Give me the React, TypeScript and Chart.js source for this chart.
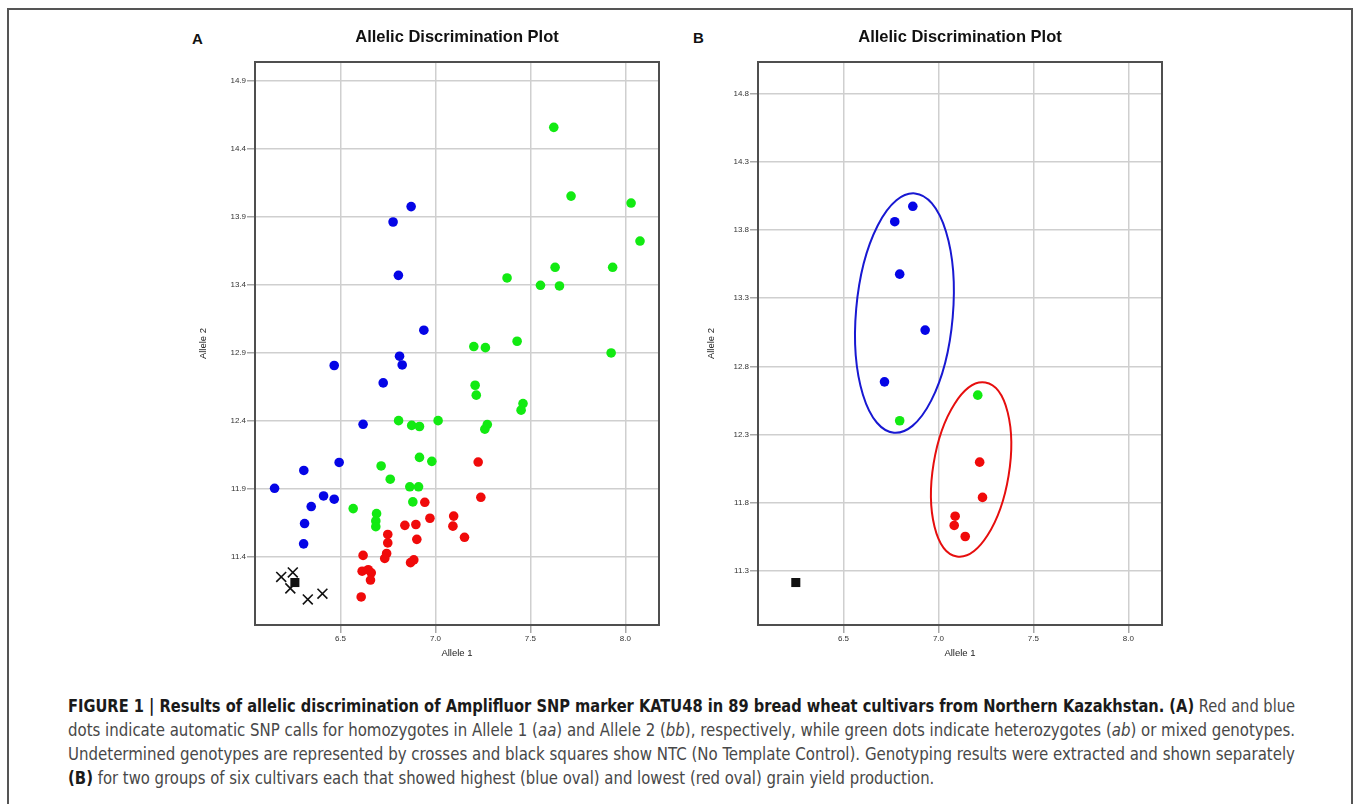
import React, { useEffect, useLayoutEffect, useRef } from 'react';
import { Chart, registerables } from 'chart.js';

Chart.register(...registerables);

// ---------- data ----------
const xTickValues = [6.5, 7.0, 7.5, 8.0];
const yTickValuesA = [11.4, 11.9, 12.4, 12.9, 13.4, 13.9, 14.4, 14.9];
const yTickValuesB = [11.3, 11.8, 12.3, 12.8, 13.3, 13.8, 14.3, 14.8];

const X_MIN = 6.05;
const X_MAX = 8.177;
const Y_MIN = 10.9;
const Y_MAX = 15.035;

type Pt = [number, number];

// Panel A: all cultivars
const blueA: Pt[] = [
  [6.872, 13.973], [6.777, 13.86], [6.805, 13.468], [6.939, 13.065], [6.811, 12.874],
  [6.825, 12.81], [6.467, 12.806], [6.725, 12.678], [6.619, 12.374], [6.493, 12.094],
  [6.307, 12.035], [6.153, 11.904], [6.411, 11.848], [6.467, 11.824], [6.346, 11.77],
  [6.311, 11.645], [6.306, 11.496],
];
const greenA: Pt[] = [
  [7.623, 14.555], [7.714, 14.05], [8.03, 13.999], [8.077, 13.72], [7.63, 13.527],
  [7.933, 13.527], [7.377, 13.449], [7.553, 13.395], [7.653, 13.39], [7.43, 12.984],
  [7.202, 12.945], [7.263, 12.937], [7.925, 12.898], [7.209, 12.661], [7.215, 12.588],
  [7.461, 12.526], [7.451, 12.478], [6.806, 12.401], [7.014, 12.401], [6.875, 12.366],
  [6.916, 12.358], [7.273, 12.372], [7.26, 12.338], [6.916, 12.131], [6.981, 12.102],
  [6.714, 12.068], [6.762, 11.971], [6.865, 11.915], [6.911, 11.915], [6.881, 11.804],
  [6.567, 11.755], [6.69, 11.718], [6.686, 11.664], [6.686, 11.622],
];
const redA: Pt[] = [
  [7.225, 12.097], [7.239, 11.838], [6.944, 11.801], [7.096, 11.7], [6.971, 11.684],
  [7.092, 11.626], [6.839, 11.632], [6.897, 11.638], [7.153, 11.544], [6.749, 11.565],
  [6.749, 11.503], [6.902, 11.529], [6.743, 11.425], [6.733, 11.389], [6.619, 11.411],
  [6.886, 11.378], [6.869, 11.358], [6.614, 11.295], [6.646, 11.306], [6.662, 11.283],
  [6.658, 11.23], [6.609, 11.106],
];
const undeterminedA: Pt[] = [
  [6.188, 11.253], [6.249, 11.286], [6.236, 11.169], [6.328, 11.088], [6.405, 11.13],
];
const ntcA: Pt[] = [[6.26, 11.212]];

// Panel B: selected cultivars
const blueB: Pt[] = [[6.865, 13.975], [6.77, 13.862], [6.796, 13.477], [6.93, 13.066], [6.716, 12.686]];
const greenB: Pt[] = [[6.796, 12.4], [7.207, 12.588]];
const redB: Pt[] = [[7.217, 12.096], [7.232, 11.837], [7.088, 11.699], [7.083, 11.631], [7.141, 11.55]];
const ntcB: Pt[] = [[6.249, 11.212]];

// ovals in data units: centre, half-width (x units), half-height (y units), tilt in degrees
const ovalCentersX = [6.821, 7.172];
const ovalCentersY = [13.191, 12.042];
const ovalHalfX = [0.255, 0.2];
const ovalHalfY = [0.882, 0.647];
const ovalTilt = [5, 9.3];
const ovalColors = ['#1818d2', '#e60e0e'];

// ---------- colours / styles ----------
const BLUE = '#0505e6';
const GREEN = '#12ea12';
const RED = '#f00a0a';
const BLACK = '#111111';

interface SeriesDef {
  label: string;
  data: Pt[];
  color: string;
  style: 'circle' | 'crossRot' | 'rect';
  radius: number;
}

const seriesA: SeriesDef[] = [
  { label: 'Heterozygotes', data: greenA, color: GREEN, style: 'circle', radius: 4.8 },
  { label: 'Allele 2', data: blueA, color: BLUE, style: 'circle', radius: 4.8 },
  { label: 'Allele 1', data: redA, color: RED, style: 'circle', radius: 4.8 },
  { label: 'Undetermined', data: undeterminedA, color: BLACK, style: 'crossRot', radius: 7 },
  { label: 'NTC', data: ntcA, color: BLACK, style: 'rect', radius: 6.4 },
];
const seriesB: SeriesDef[] = [
  { label: 'Heterozygotes', data: greenB, color: GREEN, style: 'circle', radius: 4.8 },
  { label: 'Allele 2', data: blueB, color: BLUE, style: 'circle', radius: 4.8 },
  { label: 'Allele 1', data: redB, color: RED, style: 'circle', radius: 4.8 },
  { label: 'NTC', data: ntcB, color: BLACK, style: 'rect', radius: 6.4 },
];

const TICK_FONT = { family: '"Liberation Sans", Arial, sans-serif', size: 8 };
const AXIS_TITLE_FONT = { family: '"Liberation Sans", Arial, sans-serif', size: 9.5 };

interface PanelProps {
  left: number;
  top: number;
  width: number;
  height: number;
  yAxisWidth: number;
  yTitlePad: number;
  rightPad: number;
  yTicks: number[];
  series: SeriesDef[];
  withOvals: boolean;
}

function ScatterPanel(props: PanelProps) {
  const ref = useRef<HTMLCanvasElement | null>(null);
  useEffect(() => {
    const canvas = ref.current;
    if (!canvas) return;

    const framePlugin = {
      id: 'plotFrame',
      beforeDatasetsDraw(chart: any) {
        const { ctx, chartArea: a } = chart;
        ctx.save();
        ctx.strokeStyle = '#4f4f4f';
        ctx.lineWidth = 2;
        ctx.strokeRect(a.left, a.top, a.right - a.left, a.bottom - a.top);
        ctx.restore();
      },
    };

    const ovalPlugin = {
      id: 'ovals',
      afterDatasetsDraw(chart: any) {
        if (!props.withOvals) return;
        const { ctx } = chart;
        const xs = chart.scales.x;
        const ys = chart.scales.y;
        ctx.save();
        ctx.lineWidth = 2;
        for (let i = 0; i < ovalCentersX.length; i++) {
          const cx = xs.getPixelForValue(ovalCentersX[i]);
          const cy = ys.getPixelForValue(ovalCentersY[i]);
          const rx = Math.abs(xs.getPixelForValue(ovalCentersX[i] + ovalHalfX[i]) - cx);
          const ry = Math.abs(ys.getPixelForValue(ovalCentersY[i] + ovalHalfY[i]) - cy);
          ctx.strokeStyle = ovalColors[i];
          ctx.beginPath();
          ctx.ellipse(cx, cy, rx, ry, (ovalTilt[i] * Math.PI) / 180, 0, Math.PI * 2);
          ctx.stroke();
        }
        ctx.restore();
      },
    };

    const chart = new Chart(canvas, {
      type: 'scatter',
      data: {
        datasets: props.series.map((s) => ({
          label: s.label,
          data: s.data.map(([x, y]) => ({ x, y })),
          pointStyle: s.style,
          pointRadius: s.radius,
          pointBackgroundColor: s.color,
          pointBorderColor: s.color,
          pointBorderWidth: s.style === 'crossRot' ? 1.6 : 0,
          showLine: false,
        })),
      },
      options: {
        responsive: false,
        animation: false,
        events: [],
        layout: { padding: { left: 0, right: props.rightPad, top: 0, bottom: 0 } },
        scales: {
          x: {
            type: 'linear',
            min: X_MIN,
            max: X_MAX,
            afterBuildTicks: (s: any) => {
              s.ticks = xTickValues.map((v) => ({ value: v }));
            },
            afterFit: (s: any) => {
              s.height = 49;
            },
            grid: { color: '#cfcfcf', lineWidth: 1.5, tickLength: 8, tickColor: '#a8a8a8' },
            border: { display: false },
            ticks: {
              padding: 1,
              color: '#333333',
              font: TICK_FONT,
              callback: (v: any) => Number(v).toFixed(1),
            },
            title: {
              display: true,
              text: 'Allele 1',
              color: '#222222',
              font: AXIS_TITLE_FONT,
              padding: { top: 0, bottom: 14.6 },
            },
          },
          y: {
            type: 'linear',
            min: Y_MIN,
            max: Y_MAX,
            afterBuildTicks: (s: any) => {
              s.ticks = props.yTicks.map((v) => ({ value: v }));
            },
            afterFit: (s: any) => {
              s.width = props.yAxisWidth;
            },
            grid: { color: '#cfcfcf', lineWidth: 1.5, tickLength: 8, tickColor: '#a8a8a8' },
            border: { display: false },
            ticks: {
              padding: 1,
              color: '#333333',
              font: TICK_FONT,
              callback: (v: any) => Number(v).toFixed(1),
            },
            title: {
              display: true,
              text: 'Allele 2',
              color: '#222222',
              font: AXIS_TITLE_FONT,
              padding: { top: props.yTitlePad, bottom: 0 },
            },
          },
        },
        plugins: {
          legend: { display: false },
          tooltip: { enabled: false },
          title: {
            display: true,
            text: 'Allelic Discrimination Plot',
            fullSize: false,
            color: '#111111',
            font: { family: '"Liberation Sans", Arial, sans-serif', size: 16.5, weight: 'bold' },
            padding: { top: 13.5, bottom: 14.7 },
          },
        },
      } as any,
      plugins: [framePlugin, ovalPlugin],
    });
    return () => chart.destroy();
  }, []);

  return (
    <canvas
      ref={ref}
      width={props.width}
      height={props.height}
      style={{
        position: 'absolute',
        left: props.left,
        top: props.top,
        width: props.width,
        height: props.height,
      }}
    />
  );
}

// ---------- caption ----------
type Run = { t: string; b?: boolean; i?: boolean };
const captionLines: Run[][] = [
  [
    {
      t: 'FIGURE 1 | Results of allelic discrimination of Amplifluor SNP marker KATU48 in 89 bread wheat cultivars from Northern Kazakhstan. (A)',
      b: true,
    },
    { t: ' Red and blue' },
  ],
  [
    { t: 'dots indicate automatic SNP calls for homozygotes in Allele 1 (' },
    { t: 'aa', i: true },
    { t: ') and Allele 2 (' },
    { t: 'bb', i: true },
    { t: '), respectively, while green dots indicate heterozygotes (' },
    { t: 'ab', i: true },
    { t: ') or mixed genotypes.' },
  ],
  [
    {
      t: 'Undetermined genotypes are represented by crosses and black squares show NTC (No Template Control). Genotyping results were extracted and shown separately',
    },
  ],
  [
    { t: '(B)', b: true },
    { t: ' for two groups of six cultivars each that showed highest (blue oval) and lowest (red oval) grain yield production.' },
  ],
];
const CAPTION_WIDTH = 1227;

function Caption() {
  const refs = useRef<(HTMLSpanElement | null)[]>([]);
  useLayoutEffect(() => {
    const spans = refs.current;
    const scales: number[] = [];
    spans.forEach((sp, idx) => {
      if (!sp || idx > 2) return;
      sp.style.transform = 'none';
      const w = sp.getBoundingClientRect().width;
      scales.push(CAPTION_WIDTH / w);
    });
    const avg = scales.reduce((a, b) => a + b, 0) / Math.max(scales.length, 1);
    spans.forEach((sp, idx) => {
      if (!sp) return;
      const s = idx <= 2 ? scales[idx] : avg;
      sp.style.transform = `scaleX(${s})`;
    });
  }, []);

  return (
    <div
      style={{
        position: 'absolute',
        left: 68,
        top: 694,
        width: CAPTION_WIDTH,
        fontFamily: '"Liberation Sans Narrow", "DejaVu Sans Condensed", "Liberation Sans", sans-serif',
        fontSize: 17.5,
        lineHeight: '24px',
        color: '#444444',
      }}
    >
      {captionLines.map((line, li) => (
        <div key={li} style={{ height: 24, whiteSpace: 'nowrap' }}>
          <span
            ref={(el) => {
              refs.current[li] = el;
            }}
            style={{ display: 'inline-block', transformOrigin: 'left center', whiteSpace: 'pre' }}
          >
            {line.map((r, ri) => (
              <span
                key={ri}
                style={{
                  fontWeight: r.b ? 'bold' : 'normal',
                  fontStyle: r.i ? 'italic' : 'normal',
                  color: r.b ? '#1a1a1a' : '#484848',
                }}
              >
                {r.t}
              </span>
            ))}
          </span>
        </div>
      ))}
    </div>
  );
}

export default function App() {
  return (
    <div>
      <div
        style={{
          position: 'absolute',
          left: 7,
          top: 8,
          width: 1346,
          height: 796,
          borderLeft: '2px solid #555555',
          borderTop: '2px solid #555555',
          borderRight: '2px solid #555555',
          boxSizing: 'border-box',
        }}
      />
      <div
        style={{
          position: 'absolute',
          left: 192,
          top: 31,
          font: 'bold 15px "Liberation Sans", Arial, sans-serif',
          lineHeight: '15px',
          color: '#111111',
        }}
      >
        A
      </div>
      <div
        style={{
          position: 'absolute',
          left: 693,
          top: 30,
          font: 'bold 15px "Liberation Sans", Arial, sans-serif',
          lineHeight: '15px',
          color: '#111111',
        }}
      >
        B
      </div>
      <ScatterPanel
        left={150}
        top={14}
        width={530}
        height={660}
        yAxisWidth={105}
        yTitlePad={47.6}
        rightPad={21}
        yTicks={yTickValuesA}
        series={seriesA}
        withOvals={false}
      />
      <ScatterPanel
        left={655}
        top={14}
        width={530}
        height={660}
        yAxisWidth={103}
        yTitlePad={50.6}
        rightPad={23}
        yTicks={yTickValuesB}
        series={seriesB}
        withOvals={true}
      />
      <Caption />
    </div>
  );
}
